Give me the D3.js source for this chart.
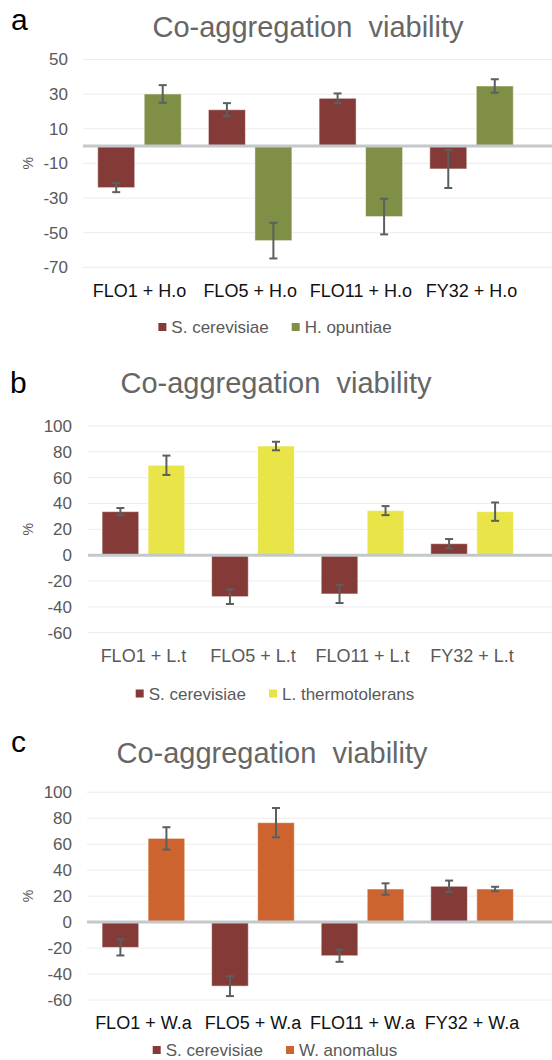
<!DOCTYPE html>
<html>
<head>
<meta charset="utf-8">
<script src="https://cdn.jsdelivr.net/npm/d3@7"></script>
<style>
  body { margin: 0; background: #fff; }
  svg { display: block; font-family: "Liberation Sans", Arial, sans-serif; }
</style>
</head>
<body>
<div id="chart"></div>
<script>
// ---- data ----
var seriesNames = ["S. cerevisiae", "H. opuntiae", "L. thermotolerans", "W. anomalus"];

var groupsA = ["FLO1 + H.o", "FLO5 + H.o", "FLO11 + H.o", "FY32 + H.o"];
var scA = [-24, 21, 27.6, -13.2];
var scErrA = [2.6, 3.8, 2.8, 11];
var hoA = [30.1, -54.6, -40.7, 34.7];
var hoErrA = [5.1, 10.3, 10.3, 3.9];
var ticksA = [50, 30, 10, -10, -30, -50, -70];

var groupsB = ["FLO1 + L.t", "FLO5 + L.t", "FLO11 + L.t", "FY32 + L.t"];
var scB = [33.7, -32.1, -30, 8.9];
var scErrB = [2.8, 5.7, 7, 3.6];
var ltB = [69.6, 84.5, 34.5, 33.7];
var ltErrB = [7.5, 3.3, 3.5, 7.1];
var ticksB = [100, 80, 60, 40, 20, 0, -20, -40, -60];

var groupsC = ["FLO1 + W.a", "FLO5 + W.a", "FLO11 + W.a", "FY32 + W.a"];
var scC = [-19.5, -49.3, -25.9, 27.6];
var scErrC = [6.2, 7.7, 4.7, 4.4];
var waC = [64.5, 76.6, 25.5, 25.5];
var waErrC = [8.6, 11.3, 4.4, 1.7];
var ticksC = [100, 80, 60, 40, 20, 0, -20, -40, -60];

var W = 552, H = 1060;

var svg = d3.select("#chart").append("svg")
  .attr("width", W)
  .attr("height", H);

/*
 * draw one panel
 */
function drawPanel(p) {
  var g = svg.append("g");

  var y = d3.scaleLinear()
    .domain([p.ticks[0], p.ticks[p.ticks.length - 1]])
    .range([p.yTop, p.yBottom]);

  var x0 = d3.scaleBand()
    .domain(p.groups)
    .range(p.xRange)
    .paddingInner(0.2457)
    .paddingOuter(0.124);

  var x1 = d3.scaleBand()
    .domain([0, 1])
    .range([0, x0.bandwidth()])
    .paddingInner(0.204);

  // panel letter + title
  g.append("text")
    .attr("x", p.letterX).attr("y", p.letterY)
    .attr("font-size", 30).attr("fill", "#000")
    .text(p.letter);
  g.append("text")
    .attr("x", p.titleX).attr("y", p.titleY)
    .attr("text-anchor", "middle")
    .attr("font-size", 29).attr("fill", "#666")
    .attr("xml:space", "preserve")
    .style("white-space", "pre")
    .text("Co-aggregation  viability");

  // gridlines
  g.selectAll("line.grid")
    .data(p.ticks.filter(function(t) { return t !== 0; }))
    .enter().append("line")
    .attr("class", "grid")
    .attr("x1", p.gridX).attr("x2", W)
    .attr("y1", function(d) { return y(d); })
    .attr("y2", function(d) { return y(d); })
    .attr("stroke", "#ececec").attr("stroke-width", 1);

  // y tick labels (plain hyphen for negatives, like the original)
  var yAxis = d3.axisLeft(y).tickValues(p.ticks).tickSize(0).tickPadding(0)
    .tickFormat(function(d) { return String(d); });
  var ag = g.append("g")
    .attr("transform", "translate(" + p.tickX + ",0)")
    .call(yAxis);
  ag.select(".domain").remove();
  ag.selectAll("text")
    .attr("font-size", 17)
    .attr("font-family", "Liberation Sans, Arial, sans-serif")
    .attr("fill", "#595959");

  // y label
  g.append("text")
    .attr("transform", "translate(33," + ((p.yTop + p.yBottom) / 2) + ") rotate(-90)")
    .attr("text-anchor", "middle")
    .attr("font-size", 14).attr("fill", "#595959")
    .text("%");

  // bars
  var rows = [];
  p.groups.forEach(function(name, i) {
    rows.push({ g: name, s: 0, v: p.sc[i], e: p.scErr[i], c: "#843a36" });
    rows.push({ g: name, s: 1, v: p.other[i], e: p.otherErr[i], c: p.otherColor });
  });

  g.selectAll("rect.bar")
    .data(rows)
    .enter().append("rect")
    .attr("class", "bar")
    .attr("x", function(d) { return x0(d.g) + x1(d.s); })
    .attr("width", x1.bandwidth())
    .attr("y", function(d) { return Math.min(y(d.v), y(0)); })
    .attr("height", function(d) { return Math.abs(y(d.v) - y(0)); })
    .attr("fill", function(d) { return d.c; })
    .attr("stroke", "#fff").attr("stroke-opacity", 0.5).attr("stroke-width", 1);

  // zero line
  g.append("line")
    .attr("x1", p.gridX).attr("x2", W)
    .attr("y1", y(0)).attr("y2", y(0))
    .attr("stroke", "#c3c8ca").attr("stroke-width", 3);

  // error bars
  var eb = g.selectAll("g.err")
    .data(rows)
    .enter().append("g")
    .attr("class", "err")
    .attr("transform", function(d) {
      return "translate(" + (x0(d.g) + x1(d.s) + x1.bandwidth() / 2) + ",0)";
    });
  eb.append("line")
    .attr("y1", function(d) { return y(d.v + d.e); })
    .attr("y2", function(d) { return y(d.v - d.e); })
    .attr("stroke", "#596060").attr("stroke-width", 2);
  eb.append("line")
    .attr("x1", -4).attr("x2", 4)
    .attr("y1", function(d) { return y(d.v + d.e); })
    .attr("y2", function(d) { return y(d.v + d.e); })
    .attr("stroke", "#596060").attr("stroke-width", 2);
  eb.append("line")
    .attr("x1", -4).attr("x2", 4)
    .attr("y1", function(d) { return y(d.v - d.e); })
    .attr("y2", function(d) { return y(d.v - d.e); })
    .attr("stroke", "#596060").attr("stroke-width", 2);

  // x labels
  g.selectAll("text.xl")
    .data(p.groups)
    .enter().append("text")
    .attr("class", "xl")
    .attr("x", function(d) { return x0(d) + x0.bandwidth() / 2; })
    .attr("y", p.xLabelY)
    .attr("text-anchor", "middle")
    .attr("font-size", 18)
    .attr("fill", p.xLabelColor)
    .text(function(d) { return d; });

  // legend
  var items = [
    { name: seriesNames[0], c: "#843a36" },
    { name: p.otherName, c: p.otherColor }
  ];
  var lg = g.append("g");
  var cx = 0;
  items.forEach(function(it) {
    lg.append("rect")
      .attr("x", cx).attr("y", -4).attr("width", 8).attr("height", 8)
      .attr("fill", it.c);
    var t = lg.append("text")
      .attr("x", cx + 13).attr("y", 6)
      .attr("font-size", 17).attr("fill", "#595959")
      .text(it.name);
    cx += 13 + t.node().getComputedTextLength() + 23;
  });
  var lw = cx - 23;
  lg.attr("transform", "translate(" + (275 - lw / 2) + "," + p.legendY + ")");
}

drawPanel({
  letter: "a", letterX: 11, letterY: 30, titleX: 308, titleY: 37,
  groups: groupsA, sc: scA, scErr: scErrA, other: hoA, otherErr: hoErrA,
  otherName: seriesNames[1], otherColor: "#7f8f45",
  ticks: ticksA, yTop: 59.5, yBottom: 267.3,
  xRange: [84, 527], gridX: 83, tickX: 68,
  xLabelY: 296.5, xLabelColor: "#111", legendY: 327
});

drawPanel({
  letter: "b", letterX: 10, letterY: 393, titleX: 276, titleY: 393,
  groups: groupsB, sc: scB, scErr: scErrB, other: ltB, otherErr: ltErrB,
  otherName: seriesNames[2], otherColor: "#e9e447",
  ticks: ticksB, yTop: 426, yBottom: 632.7,
  xRange: [88.5, 527], gridX: 88, tickX: 72,
  xLabelY: 661.5, xLabelColor: "#595959", legendY: 693.5
});

drawPanel({
  letter: "c", letterX: 11, letterY: 751.5, titleX: 272, titleY: 763,
  groups: groupsC, sc: scC, scErr: scErrC, other: waC, otherErr: waErrC,
  otherName: seriesNames[3], otherColor: "#cd6430",
  ticks: ticksC, yTop: 792.3, yBottom: 1000,
  xRange: [88.5, 527], gridX: 87, tickX: 72,
  xLabelY: 1028.5, xLabelColor: "#111", legendY: 1050
});
</script>
</body>
</html>
